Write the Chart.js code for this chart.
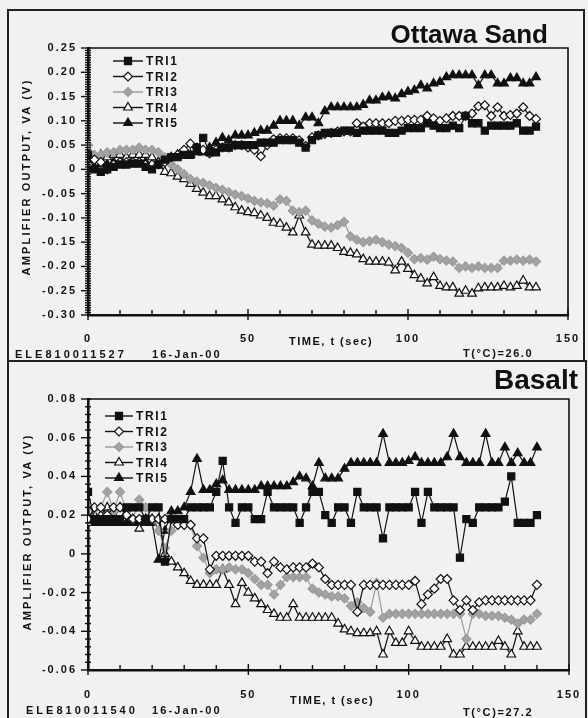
<!DOCTYPE html>
<html>
<head>
<meta charset="utf-8">
<script src="https://cdn.jsdelivr.net/npm/chart.js@4.4.1/dist/chart.umd.min.js"></script>
<style>
body{margin:0;background:#f1f1ef;}
#page{position:relative;width:588px;height:718px;overflow:hidden;background:#f1f1ef;font-family:"Liberation Sans",Arial,sans-serif;color:#111;}
canvas{position:absolute;left:0;}
.frame{position:absolute;border:2px solid #222;}
.t{position:absolute;font-weight:bold;font-size:11px;line-height:12px;white-space:nowrap;letter-spacing:2.2px;}
.big{position:absolute;font-weight:bold;white-space:nowrap;line-height:1;}
.ytitle{position:absolute;font-weight:bold;font-size:11px;line-height:12px;letter-spacing:2.2px;white-space:nowrap;transform:translate(-50%,-50%) rotate(-90deg);}
</style>
</head>
<body>
<div id="page">
  <div class="frame" style="left:7px;top:9px;width:574px;height:349px;"></div>
  <div class="frame" style="left:7px;top:360px;width:576px;height:380px;"></div>

  <canvas id="sand" width="588" height="360" style="top:0"></canvas>
  <canvas id="basalt" width="588" height="358" style="top:360px"></canvas>

  <div class="big" style="font-size:26px;right:40px;top:21px;">Ottawa Sand</div>
  <div class="ytitle" style="left:26px;top:177px;">AMPLIFIER OUTPUT, VA (V)</div>
  <div class="t" style="left:289px;top:335px;letter-spacing:1.5px;">TIME, t (sec)</div>
  <div class="t" style="left:15px;top:348px;letter-spacing:3px;">ELE810011527</div>
  <div class="t" style="left:152px;top:348px;letter-spacing:2.1px;">16-Jan-00</div>
  <div class="t" style="left:463px;top:347px;letter-spacing:1.6px;">T(°C)=26.0</div>

  <div class="big" style="font-size:28px;right:10px;top:366px;">Basalt</div>
  <div class="ytitle" style="left:27px;top:532px;">AMPLIFIER OUTPUT, VA (V)</div>
  <div class="t" style="left:290px;top:694px;letter-spacing:1.5px;">TIME, t (sec)</div>
  <div class="t" style="left:26px;top:704px;letter-spacing:3px;">ELE810011540</div>
  <div class="t" style="left:152px;top:704px;letter-spacing:2.1px;">16-Jan-00</div>
  <div class="t" style="left:463px;top:706px;letter-spacing:1.6px;">T(°C)=27.2</div>
</div>

<script>
// time axis (sec)
var times = [0,2,4,6,8,10,12,14,16,18,
  20,22,24,26,28,30,32,34,36,38,
  40,42,44,46,48,50,52,54,56,58,
  60,62,64,66,68,70,72,74,76,78,
  80,82,84,86,88,90,92,94,96,98,
  100,102,104,106,108,110,112,114,116,118,
  120,122,124,126,128,130,132,134,136,138,
  140];

var seriesNames = ['TRI1','TRI2','TRI3','TRI4','TRI5'];

// Ottawa Sand readings (V)
var sandTri1 = [0.030,0.000,-0.005,0.000,0.005,0.010,0.010,0.012,0.012,0.005,
  0.000,0.010,0.020,0.025,0.025,0.030,0.030,0.045,0.065,0.035,
  0.035,0.045,0.045,0.050,0.050,0.050,0.050,0.055,0.055,0.055,
  0.060,0.060,0.060,0.055,0.045,0.060,0.070,0.075,0.075,0.075,
  0.080,0.080,0.075,0.080,0.080,0.080,0.080,0.075,0.075,0.080,
  0.085,0.085,0.085,0.095,0.090,0.085,0.085,0.090,0.085,0.110,
  0.095,0.095,0.080,0.090,0.090,0.090,0.090,0.095,0.080,0.080,
  0.088];
var sandTri2 = [0.025,0.020,0.015,0.000,0.010,0.015,0.015,0.015,0.015,0.010,
  0.010,0.010,0.015,0.025,0.030,0.040,0.053,0.045,0.040,0.033,
  0.040,0.045,0.045,0.050,0.050,0.045,0.040,0.027,0.050,0.062,
  0.064,0.064,0.064,0.060,0.048,0.066,0.070,0.073,0.075,0.078,
  0.078,0.078,0.095,0.088,0.095,0.095,0.095,0.095,0.100,0.100,
  0.102,0.102,0.102,0.110,0.105,0.100,0.105,0.110,0.110,0.110,
  0.115,0.130,0.132,0.110,0.128,0.110,0.112,0.115,0.128,0.110,
  0.104];
var sandTri3 = [0.050,0.030,0.030,0.035,0.035,0.040,0.040,0.040,0.045,0.040,
  0.040,0.035,0.025,0.010,0.000,-0.010,-0.020,-0.025,-0.028,-0.033,
  -0.038,-0.042,-0.047,-0.052,-0.055,-0.060,-0.065,-0.068,-0.070,-0.075,
  -0.062,-0.065,-0.085,-0.088,-0.085,-0.105,-0.112,-0.118,-0.120,-0.115,
  -0.108,-0.138,-0.145,-0.150,-0.148,-0.145,-0.150,-0.155,-0.158,-0.162,
  -0.172,-0.185,-0.183,-0.186,-0.180,-0.185,-0.188,-0.190,-0.203,-0.200,
  -0.203,-0.200,-0.203,-0.203,-0.203,-0.188,-0.188,-0.186,-0.188,-0.186,
  -0.190];
var sandTri4 = [0.030,0.020,0.030,0.025,0.030,0.030,0.025,0.030,0.030,0.030,
  0.025,0.015,-0.005,-0.008,-0.015,-0.020,-0.030,-0.040,-0.048,-0.055,
  -0.055,-0.062,-0.068,-0.078,-0.085,-0.088,-0.090,-0.095,-0.100,-0.110,
  -0.112,-0.120,-0.130,-0.095,-0.130,-0.155,-0.157,-0.157,-0.157,-0.162,
  -0.170,-0.172,-0.175,-0.185,-0.190,-0.190,-0.190,-0.192,-0.208,-0.190,
  -0.205,-0.218,-0.225,-0.235,-0.222,-0.240,-0.243,-0.243,-0.256,-0.250,
  -0.256,-0.245,-0.243,-0.243,-0.243,-0.240,-0.243,-0.240,-0.229,-0.243,
  -0.243];
var sandTri5 = [0.000,0.005,0.010,0.010,0.015,0.015,0.015,0.015,0.015,0.015,
  0.010,0.015,0.020,0.025,0.030,0.030,0.030,0.035,0.035,0.045,
  0.055,0.065,0.060,0.070,0.070,0.070,0.075,0.080,0.080,0.090,
  0.100,0.100,0.100,0.090,0.107,0.107,0.095,0.120,0.128,0.128,
  0.128,0.128,0.128,0.133,0.142,0.142,0.148,0.150,0.146,0.155,
  0.160,0.163,0.173,0.167,0.177,0.180,0.190,0.194,0.194,0.194,
  0.194,0.173,0.194,0.194,0.177,0.177,0.188,0.188,0.177,0.177,
  0.190];

// Basalt readings (V)
var basaltTri1 = [0.032,0.018,0.018,0.018,0.018,0.018,0.024,0.024,0.024,0.018,
  0.024,0.024,-0.004,0.018,0.018,0.018,0.024,0.024,0.024,0.024,
  0.032,0.048,0.024,0.016,0.024,0.024,0.018,0.018,0.032,0.024,
  0.024,0.024,0.024,0.016,0.024,0.032,0.032,0.020,0.016,0.024,
  0.024,0.016,0.032,0.024,0.024,0.024,0.008,0.024,0.024,0.024,
  0.024,0.032,0.016,0.032,0.024,0.024,0.024,0.024,-0.002,0.018,
  0.016,0.024,0.024,0.024,0.024,0.027,0.040,0.016,0.016,0.016,
  0.020];
var basaltTri2 = [0.018,0.024,0.024,0.020,0.024,0.024,0.020,0.018,0.018,0.018,
  0.018,0.018,0.018,0.018,0.015,0.015,0.015,0.008,0.008,-0.008,
  -0.001,-0.001,-0.001,-0.001,-0.001,-0.001,-0.004,-0.004,-0.010,-0.004,
  -0.007,-0.008,-0.007,-0.007,-0.007,-0.005,-0.007,-0.013,-0.016,-0.016,
  -0.016,-0.016,-0.030,-0.016,-0.016,-0.016,-0.016,-0.016,-0.016,-0.016,
  -0.016,-0.014,-0.026,-0.021,-0.018,-0.013,-0.013,-0.024,-0.029,-0.024,
  -0.029,-0.025,-0.024,-0.024,-0.024,-0.024,-0.024,-0.024,-0.024,-0.024,
  -0.016];
var basaltTri3 = [0.018,0.023,0.024,0.032,0.022,0.032,0.022,0.018,0.028,0.024,
  0.018,0.012,0.003,0.012,0.015,0.015,0.015,0.004,-0.002,-0.010,
  -0.008,-0.008,-0.007,-0.008,-0.008,-0.010,-0.013,-0.016,-0.016,-0.021,
  -0.016,-0.012,-0.012,-0.012,-0.012,-0.018,-0.020,-0.021,-0.022,-0.022,
  -0.023,-0.027,-0.025,-0.028,-0.030,-0.015,-0.033,-0.031,-0.031,-0.031,
  -0.031,-0.031,-0.031,-0.031,-0.031,-0.031,-0.031,-0.031,-0.031,-0.044,
  -0.031,-0.031,-0.032,-0.032,-0.032,-0.033,-0.034,-0.036,-0.034,-0.034,
  -0.031];
var basaltTri4 = [0.016,0.020,0.020,0.024,0.018,0.024,0.020,0.018,0.013,0.018,
  0.018,0.018,0.000,-0.004,-0.007,-0.010,-0.014,-0.016,-0.016,-0.016,
  -0.016,-0.008,-0.016,-0.026,-0.015,-0.020,-0.023,-0.026,-0.029,-0.031,
  -0.033,-0.033,-0.026,-0.033,-0.033,-0.033,-0.033,-0.033,-0.033,-0.036,
  -0.039,-0.040,-0.041,-0.041,-0.041,-0.040,-0.052,-0.040,-0.046,-0.046,
  -0.040,-0.045,-0.048,-0.048,-0.048,-0.048,-0.044,-0.052,-0.052,-0.048,
  -0.048,-0.048,-0.048,-0.048,-0.045,-0.048,-0.052,-0.040,-0.048,-0.048,
  -0.048];
var basaltTri5 = [0.016,0.016,0.016,0.016,0.016,0.016,0.016,0.016,0.016,0.016,
  0.016,-0.003,0.012,0.022,0.022,0.024,0.032,0.049,0.033,0.033,
  0.036,0.038,0.033,0.033,0.033,0.033,0.033,0.035,0.035,0.035,
  0.035,0.035,0.037,0.040,0.039,0.035,0.047,0.039,0.039,0.039,
  0.044,0.047,0.047,0.047,0.047,0.047,0.062,0.047,0.047,0.047,
  0.048,0.050,0.047,0.047,0.047,0.047,0.050,0.062,0.050,0.047,
  0.047,0.047,0.062,0.047,0.047,0.055,0.047,0.052,0.047,0.047,
  0.055];

// marker / line styles per series
var lineColors = ['#111','#111','#9a9a9a','#111','#111'];
var fillColors = ['#111','#fbfbfb','#a3a3a3','#fbfbfb','#111'];
var markerStyles = ['rect','rectRot','rectRot','triangle','triangle'];
var markerSizes = [5, 4.5, 4.5, 5, 5];

var fontFamily = '"Liberation Sans", Arial, sans-serif';

function drawMarker(ctx, style, x, y, r) {
    ctx.beginPath();
    if (style === 'rect') {
        var s = r * Math.SQRT1_2;
        ctx.rect(x - s, y - s, 2 * s, 2 * s);
    } else if (style === 'rectRot') {
        ctx.moveTo(x - r, y); ctx.lineTo(x, y - r);
        ctx.lineTo(x + r, y); ctx.lineTo(x, y + r);
        ctx.closePath();
    } else {
        var a = 0;
        ctx.moveTo(x + Math.sin(a) * r, y - Math.cos(a) * r);
        a += 2 * Math.PI / 3;
        ctx.lineTo(x + Math.sin(a) * r, y - Math.cos(a) * r);
        a += 2 * Math.PI / 3;
        ctx.lineTo(x + Math.sin(a) * r, y - Math.cos(a) * r);
        ctx.closePath();
    }
    ctx.fill();
    ctx.stroke();
}

// letter spacing for the canvas labels
var spacing = {
    id: 'spacing',
    beforeDraw: function(c){ c.ctx.letterSpacing = '2px'; }
};

// plot frame, minor ticks and the inset legend
var decor = {
    id: 'decor',
    afterDraw: function(c, args, o) {
        var ctx = c.ctx, a = c.chartArea, x = c.scales.x, y = c.scales.y;
        ctx.save();
        ctx.strokeStyle = '#111';
        ctx.lineWidth = 1.6;
        ctx.beginPath();
        ctx.moveTo(a.left, a.top); ctx.lineTo(a.right, a.top); ctx.lineTo(a.right, a.bottom);
        ctx.stroke();

        ctx.lineWidth = 1.4;
        var n = Math.round((o.yMax - o.yMin) / o.yMinor);
        for (var i = 0; i <= n; i++) {
            var v = o.yMin + i * o.yMinor;
            var py = y.getPixelForValue(v);
            var q = v / o.yMajor;
            var major = Math.abs(q - Math.round(q)) < 1e-6;
            ctx.beginPath();
            ctx.moveTo(a.left - (major ? 7 : 3), py);
            ctx.lineTo(a.left + 3, py);
            ctx.stroke();
        }
        for (var t = 0; t <= 150; t += 10) {
            var px = x.getPixelForValue(t);
            var big = t % 50 === 0;
            ctx.beginPath();
            ctx.moveTo(px, a.bottom + (big ? 5 : 0));
            ctx.lineTo(px, a.bottom - (big ? 6 : 5));
            ctx.stroke();
        }

        // legend
        ctx.letterSpacing = '1.6px';
        ctx.font = 'bold 12px ' + fontFamily;
        ctx.textBaseline = 'middle';
        c.data.datasets.forEach(function(ds, k) {
            var ly = o.legY + k * o.legGap;
            ctx.strokeStyle = ds.borderColor;
            ctx.lineWidth = 1.4;
            ctx.beginPath();
            ctx.moveTo(o.legX, ly); ctx.lineTo(o.legX + o.legLen, ly);
            ctx.stroke();
            ctx.fillStyle = ds.pointBackgroundColor;
            ctx.lineWidth = 1.2;
            drawMarker(ctx, ds.pointStyle, o.legX + o.legLen / 2, ly, ds.pointRadius);
            ctx.fillStyle = '#111';
            ctx.fillText(ds.label, o.legX + o.legLen + 3, ly + 1);
        });
        ctx.restore();
    }
};

function buildPanel(id, vals, opt) {
    var sets = seriesNames.map(function(name, k) {
        return {
            label: name,
            data: times.map(function(t, i){ return {x: t, y: vals[k][i]}; }),
            borderColor: lineColors[k],
            backgroundColor: fillColors[k],
            pointBackgroundColor: fillColors[k],
            pointBorderColor: lineColors[k],
            pointStyle: markerStyles[k],
            pointRadius: markerSizes[k],
            pointBorderWidth: 1.2,
            borderWidth: 1.2,
            tension: 0
        };
    });
    var tickFont = {family: fontFamily, size: 11, weight: 'bold'};
    return new Chart(document.getElementById(id), {
        type: 'line',
        data: {datasets: sets},
        options: {
            responsive: false,
            animation: false,
            events: [],
            layout: {padding: {left: 0, top: opt.top, right: opt.right, bottom: 0}},
            plugins: {
                legend: {display: false},
                tooltip: {enabled: false},
                decor: {yMin: opt.yMin, yMax: opt.yMax, yMajor: opt.yStep, yMinor: opt.yMinor,
                        legX: opt.legX, legY: opt.legY, legGap: opt.legGap, legLen: opt.legLen}
            },
            scales: {
                x: {
                    type: 'linear', min: 0, max: 150,
                    ticks: {stepSize: 50, color: '#111', font: tickFont, padding: opt.xPad, maxRotation: 0},
                    grid: {display: false, drawTicks: false},
                    border: {display: true, color: '#111', width: 2.6},
                    // keep the plot edges where the layout padding puts them
                    afterFit: function(s){ s.height = opt.xH; s.paddingLeft = 0; s.paddingRight = 0; }
                },
                y: {
                    min: opt.yMin, max: opt.yMax,
                    ticks: {
                        stepSize: opt.yStep, color: '#111', font: tickFont, padding: 11,
                        callback: function(v){ return Math.abs(v) < 1e-9 ? '0' : v.toFixed(2); }
                    },
                    grid: {display: false, drawTicks: false},
                    border: {display: true, color: '#111', width: 2.6},
                    afterFit: function(s){ s.width = 88; s.paddingTop = 0; s.paddingBottom = 0; }
                }
            }
        },
        plugins: [spacing, decor]
    });
}

buildPanel('sand', [sandTri1, sandTri2, sandTri3, sandTri4, sandTri5], {
    top: 48, right: 20, xH: 45, xPad: 17,
    yMin: -0.30, yMax: 0.25, yStep: 0.05, yMinor: 0.005,
    legX: 113, legY: 61, legGap: 15.5, legLen: 30
});
buildPanel('basalt', [basaltTri1, basaltTri2, basaltTri3, basaltTri4, basaltTri5], {
    top: 39, right: 19, xH: 48, xPad: 18,
    yMin: -0.06, yMax: 0.08, yStep: 0.02, yMinor: 0.004,
    legX: 105, legY: 56, legGap: 15.5, legLen: 28
});
</script>
</body>
</html>
